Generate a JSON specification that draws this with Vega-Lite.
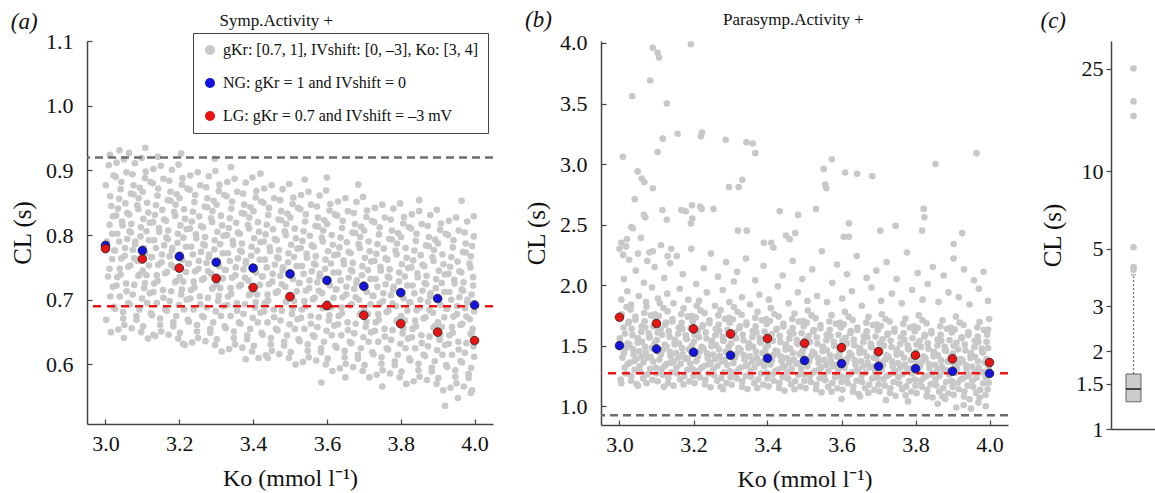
{
"$schema": "https://vega.github.io/schema/vega-lite/v6.json",
"background": "white",
"padding": {"left": 10, "top": 9, "right": 0, "bottom": 0},
"config": {"font": "Liberation Serif", "view": {"stroke": null},
 "axis": {"grid": false, "domainColor": "#444", "tickColor": "#444", "labelColor": "#111", "titleColor": "#111", "labelFontSize": 22, "titleFontSize": 24, "titleFontWeight": "normal", "domainWidth": 1.5, "tickWidth": 1.2, "labelFont": "Liberation Serif", "titleFont": "Liberation Serif"},
 "title": {"fontSize": 23, "fontWeight": "normal", "font": "Liberation Serif", "color": "#111"},
 "legend": {"labelFont": "Liberation Serif", "labelFontSize": 16, "labelLimit": 0, "labelColor": "#111", "symbolType": "circle", "symbolStrokeWidth": 0, "strokeColor": "#444", "fillColor": "white", "padding": 9, "labelOffset": 5, "titlePadding": 0}},
"datasets": {
"a": [
{"x":3.002,"y":0.669},{"x":3.013,"y":0.705},{"x":3.007,"y":0.736},{"x":3.018,"y":0.763},{"x":3.004,"y":0.790},{"x":3.011,"y":0.816},{"x":3.016,"y":0.845},{"x":3.001,"y":0.877},{"x":3.009,"y":0.908},
{"x":3.035,"y":0.654},{"x":3.023,"y":0.689},{"x":3.030,"y":0.722},{"x":3.039,"y":0.748},{"x":3.026,"y":0.776},{"x":3.032,"y":0.802},{"x":3.020,"y":0.829},{"x":3.037,"y":0.856},{"x":3.028,"y":0.890},
{"x":3.048,"y":0.681},{"x":3.057,"y":0.713},{"x":3.041,"y":0.739},{"x":3.052,"y":0.768},{"x":3.059,"y":0.794},{"x":3.045,"y":0.821},{"x":3.054,"y":0.849},{"x":3.043,"y":0.882},{"x":3.050,"y":0.917},
{"x":3.071,"y":0.656},{"x":3.066,"y":0.693},{"x":3.078,"y":0.723},{"x":3.062,"y":0.751},{"x":3.074,"y":0.777},{"x":3.069,"y":0.804},{"x":3.064,"y":0.832},{"x":3.076,"y":0.863},{"x":3.073,"y":0.894},
{"x":3.084,"y":0.669},{"x":3.099,"y":0.702},{"x":3.092,"y":0.739},{"x":3.087,"y":0.760},{"x":3.080,"y":0.786},{"x":3.096,"y":0.812},{"x":3.089,"y":0.840},{"x":3.093,"y":0.873},{"x":3.098,"y":0.919},
{"x":3.102,"y":0.659},{"x":3.113,"y":0.695},{"x":3.107,"y":0.726},{"x":3.118,"y":0.753},{"x":3.104,"y":0.780},{"x":3.111,"y":0.806},{"x":3.116,"y":0.835},{"x":3.101,"y":0.867},{"x":3.109,"y":0.898},
{"x":3.135,"y":0.644},{"x":3.123,"y":0.679},{"x":3.130,"y":0.712},{"x":3.139,"y":0.738},{"x":3.126,"y":0.766},{"x":3.132,"y":0.792},{"x":3.120,"y":0.819},{"x":3.137,"y":0.846},{"x":3.128,"y":0.880},
{"x":3.148,"y":0.671},{"x":3.157,"y":0.703},{"x":3.141,"y":0.729},{"x":3.152,"y":0.758},{"x":3.159,"y":0.784},{"x":3.145,"y":0.811},{"x":3.154,"y":0.839},{"x":3.143,"y":0.872},{"x":3.150,"y":0.907},
{"x":3.171,"y":0.646},{"x":3.166,"y":0.683},{"x":3.178,"y":0.713},{"x":3.162,"y":0.741},{"x":3.174,"y":0.767},{"x":3.169,"y":0.794},{"x":3.164,"y":0.822},{"x":3.176,"y":0.853},{"x":3.173,"y":0.884},
{"x":3.184,"y":0.659},{"x":3.199,"y":0.692},{"x":3.192,"y":0.729},{"x":3.187,"y":0.750},{"x":3.180,"y":0.776},{"x":3.196,"y":0.802},{"x":3.189,"y":0.830},{"x":3.193,"y":0.863},{"x":3.198,"y":0.909},
{"x":3.202,"y":0.649},{"x":3.213,"y":0.685},{"x":3.207,"y":0.716},{"x":3.218,"y":0.743},{"x":3.204,"y":0.770},{"x":3.211,"y":0.796},{"x":3.216,"y":0.825},{"x":3.201,"y":0.857},{"x":3.209,"y":0.888},
{"x":3.235,"y":0.634},{"x":3.223,"y":0.669},{"x":3.230,"y":0.702},{"x":3.239,"y":0.728},{"x":3.226,"y":0.756},{"x":3.232,"y":0.782},{"x":3.220,"y":0.809},{"x":3.237,"y":0.836},{"x":3.228,"y":0.870},
{"x":3.248,"y":0.661},{"x":3.257,"y":0.693},{"x":3.241,"y":0.719},{"x":3.252,"y":0.748},{"x":3.259,"y":0.774},{"x":3.245,"y":0.801},{"x":3.254,"y":0.829},{"x":3.243,"y":0.862},{"x":3.250,"y":0.897},
{"x":3.271,"y":0.636},{"x":3.266,"y":0.673},{"x":3.278,"y":0.703},{"x":3.262,"y":0.731},{"x":3.274,"y":0.757},{"x":3.269,"y":0.784},{"x":3.264,"y":0.812},{"x":3.276,"y":0.843},{"x":3.273,"y":0.874},
{"x":3.284,"y":0.649},{"x":3.299,"y":0.682},{"x":3.292,"y":0.719},{"x":3.287,"y":0.740},{"x":3.280,"y":0.766},{"x":3.296,"y":0.792},{"x":3.289,"y":0.820},{"x":3.293,"y":0.853},{"x":3.298,"y":0.899},
{"x":3.302,"y":0.639},{"x":3.313,"y":0.675},{"x":3.307,"y":0.706},{"x":3.318,"y":0.733},{"x":3.304,"y":0.760},{"x":3.311,"y":0.786},{"x":3.316,"y":0.815},{"x":3.301,"y":0.847},{"x":3.309,"y":0.878},
{"x":3.335,"y":0.624},{"x":3.323,"y":0.659},{"x":3.330,"y":0.692},{"x":3.339,"y":0.718},{"x":3.326,"y":0.746},{"x":3.332,"y":0.772},{"x":3.320,"y":0.799},{"x":3.337,"y":0.826},{"x":3.328,"y":0.860},
{"x":3.348,"y":0.651},{"x":3.357,"y":0.683},{"x":3.341,"y":0.709},{"x":3.352,"y":0.738},{"x":3.359,"y":0.764},{"x":3.345,"y":0.791},{"x":3.354,"y":0.819},{"x":3.343,"y":0.852},{"x":3.350,"y":0.887},
{"x":3.371,"y":0.626},{"x":3.366,"y":0.663},{"x":3.378,"y":0.693},{"x":3.362,"y":0.721},{"x":3.374,"y":0.747},{"x":3.369,"y":0.774},{"x":3.364,"y":0.802},{"x":3.376,"y":0.833},{"x":3.373,"y":0.864},
{"x":3.384,"y":0.639},{"x":3.399,"y":0.672},{"x":3.392,"y":0.709},{"x":3.387,"y":0.730},{"x":3.380,"y":0.756},{"x":3.396,"y":0.782},{"x":3.389,"y":0.810},{"x":3.393,"y":0.843},{"x":3.398,"y":0.889},
{"x":3.402,"y":0.629},{"x":3.413,"y":0.665},{"x":3.407,"y":0.696},{"x":3.418,"y":0.723},{"x":3.404,"y":0.750},{"x":3.411,"y":0.776},{"x":3.416,"y":0.805},{"x":3.401,"y":0.837},{"x":3.409,"y":0.868},
{"x":3.435,"y":0.614},{"x":3.423,"y":0.649},{"x":3.430,"y":0.682},{"x":3.439,"y":0.708},{"x":3.426,"y":0.736},{"x":3.432,"y":0.762},{"x":3.420,"y":0.789},{"x":3.437,"y":0.816},{"x":3.428,"y":0.850},
{"x":3.448,"y":0.641},{"x":3.457,"y":0.673},{"x":3.441,"y":0.699},{"x":3.452,"y":0.728},{"x":3.459,"y":0.754},{"x":3.445,"y":0.781},{"x":3.454,"y":0.809},{"x":3.443,"y":0.842},{"x":3.450,"y":0.877},
{"x":3.471,"y":0.616},{"x":3.466,"y":0.653},{"x":3.478,"y":0.683},{"x":3.462,"y":0.711},{"x":3.474,"y":0.737},{"x":3.469,"y":0.764},{"x":3.464,"y":0.792},{"x":3.476,"y":0.823},{"x":3.473,"y":0.854},
{"x":3.484,"y":0.629},{"x":3.499,"y":0.662},{"x":3.492,"y":0.699},{"x":3.487,"y":0.720},{"x":3.480,"y":0.746},{"x":3.496,"y":0.772},{"x":3.489,"y":0.800},{"x":3.493,"y":0.833},{"x":3.498,"y":0.879},
{"x":3.502,"y":0.619},{"x":3.513,"y":0.655},{"x":3.507,"y":0.686},{"x":3.518,"y":0.713},{"x":3.504,"y":0.740},{"x":3.511,"y":0.766},{"x":3.516,"y":0.795},{"x":3.501,"y":0.827},{"x":3.509,"y":0.858},
{"x":3.535,"y":0.604},{"x":3.523,"y":0.639},{"x":3.530,"y":0.672},{"x":3.539,"y":0.698},{"x":3.526,"y":0.726},{"x":3.532,"y":0.752},{"x":3.520,"y":0.779},{"x":3.537,"y":0.806},{"x":3.528,"y":0.840},
{"x":3.548,"y":0.631},{"x":3.557,"y":0.663},{"x":3.541,"y":0.689},{"x":3.552,"y":0.718},{"x":3.559,"y":0.744},{"x":3.545,"y":0.771},{"x":3.554,"y":0.799},{"x":3.543,"y":0.832},{"x":3.550,"y":0.867},
{"x":3.571,"y":0.606},{"x":3.566,"y":0.643},{"x":3.578,"y":0.673},{"x":3.562,"y":0.701},{"x":3.574,"y":0.727},{"x":3.569,"y":0.754},{"x":3.564,"y":0.782},{"x":3.576,"y":0.813},{"x":3.573,"y":0.844},
{"x":3.584,"y":0.619},{"x":3.599,"y":0.652},{"x":3.592,"y":0.689},{"x":3.587,"y":0.710},{"x":3.580,"y":0.736},{"x":3.596,"y":0.762},{"x":3.589,"y":0.790},{"x":3.593,"y":0.823},{"x":3.598,"y":0.869},
{"x":3.602,"y":0.609},{"x":3.613,"y":0.645},{"x":3.607,"y":0.676},{"x":3.618,"y":0.703},{"x":3.604,"y":0.730},{"x":3.611,"y":0.756},{"x":3.616,"y":0.785},{"x":3.601,"y":0.817},{"x":3.609,"y":0.848},
{"x":3.635,"y":0.594},{"x":3.623,"y":0.629},{"x":3.630,"y":0.662},{"x":3.639,"y":0.688},{"x":3.626,"y":0.716},{"x":3.632,"y":0.742},{"x":3.620,"y":0.769},{"x":3.637,"y":0.796},{"x":3.628,"y":0.830},
{"x":3.648,"y":0.621},{"x":3.657,"y":0.653},{"x":3.641,"y":0.679},{"x":3.652,"y":0.708},{"x":3.659,"y":0.734},{"x":3.645,"y":0.761},{"x":3.654,"y":0.789},{"x":3.643,"y":0.822},{"x":3.650,"y":0.857},
{"x":3.671,"y":0.596},{"x":3.666,"y":0.633},{"x":3.678,"y":0.663},{"x":3.662,"y":0.691},{"x":3.674,"y":0.717},{"x":3.669,"y":0.744},{"x":3.664,"y":0.772},{"x":3.676,"y":0.803},{"x":3.673,"y":0.834},
{"x":3.684,"y":0.609},{"x":3.699,"y":0.642},{"x":3.692,"y":0.679},{"x":3.687,"y":0.700},{"x":3.680,"y":0.726},{"x":3.696,"y":0.752},{"x":3.689,"y":0.780},{"x":3.693,"y":0.813},{"x":3.698,"y":0.859},
{"x":3.702,"y":0.599},{"x":3.713,"y":0.635},{"x":3.707,"y":0.666},{"x":3.718,"y":0.693},{"x":3.704,"y":0.720},{"x":3.711,"y":0.746},{"x":3.716,"y":0.775},{"x":3.701,"y":0.807},{"x":3.709,"y":0.838},
{"x":3.735,"y":0.584},{"x":3.723,"y":0.619},{"x":3.730,"y":0.652},{"x":3.739,"y":0.678},{"x":3.726,"y":0.706},{"x":3.732,"y":0.732},{"x":3.720,"y":0.759},{"x":3.737,"y":0.786},{"x":3.728,"y":0.820},
{"x":3.748,"y":0.611},{"x":3.757,"y":0.643},{"x":3.741,"y":0.669},{"x":3.752,"y":0.698},{"x":3.759,"y":0.724},{"x":3.745,"y":0.751},{"x":3.754,"y":0.779},{"x":3.743,"y":0.812},{"x":3.750,"y":0.847},
{"x":3.771,"y":0.586},{"x":3.766,"y":0.623},{"x":3.778,"y":0.653},{"x":3.762,"y":0.681},{"x":3.774,"y":0.707},{"x":3.769,"y":0.734},{"x":3.764,"y":0.762},{"x":3.776,"y":0.793},{"x":3.773,"y":0.824},
{"x":3.784,"y":0.599},{"x":3.799,"y":0.632},{"x":3.792,"y":0.669},{"x":3.787,"y":0.690},{"x":3.780,"y":0.716},{"x":3.796,"y":0.742},{"x":3.789,"y":0.770},{"x":3.793,"y":0.803},{"x":3.798,"y":0.849},
{"x":3.802,"y":0.589},{"x":3.813,"y":0.625},{"x":3.807,"y":0.656},{"x":3.818,"y":0.683},{"x":3.804,"y":0.710},{"x":3.811,"y":0.736},{"x":3.816,"y":0.765},{"x":3.801,"y":0.797},{"x":3.809,"y":0.828},
{"x":3.835,"y":0.574},{"x":3.823,"y":0.609},{"x":3.830,"y":0.642},{"x":3.839,"y":0.668},{"x":3.826,"y":0.696},{"x":3.832,"y":0.722},{"x":3.820,"y":0.749},{"x":3.837,"y":0.776},{"x":3.828,"y":0.810},
{"x":3.848,"y":0.601},{"x":3.857,"y":0.633},{"x":3.841,"y":0.659},{"x":3.852,"y":0.688},{"x":3.859,"y":0.714},{"x":3.845,"y":0.741},{"x":3.854,"y":0.769},{"x":3.843,"y":0.802},{"x":3.850,"y":0.837},
{"x":3.871,"y":0.576},{"x":3.866,"y":0.613},{"x":3.878,"y":0.643},{"x":3.862,"y":0.671},{"x":3.874,"y":0.697},{"x":3.869,"y":0.724},{"x":3.864,"y":0.752},{"x":3.876,"y":0.783},{"x":3.873,"y":0.814},
{"x":3.884,"y":0.589},{"x":3.899,"y":0.622},{"x":3.892,"y":0.659},{"x":3.887,"y":0.680},{"x":3.880,"y":0.706},{"x":3.896,"y":0.732},{"x":3.889,"y":0.760},{"x":3.893,"y":0.793},{"x":3.898,"y":0.839},
{"x":3.902,"y":0.579},{"x":3.913,"y":0.615},{"x":3.907,"y":0.646},{"x":3.918,"y":0.673},{"x":3.904,"y":0.700},{"x":3.911,"y":0.726},{"x":3.916,"y":0.755},{"x":3.901,"y":0.787},{"x":3.909,"y":0.818},
{"x":3.935,"y":0.564},{"x":3.923,"y":0.599},{"x":3.930,"y":0.632},{"x":3.939,"y":0.658},{"x":3.926,"y":0.686},{"x":3.932,"y":0.712},{"x":3.920,"y":0.739},{"x":3.937,"y":0.766},{"x":3.928,"y":0.800},
{"x":3.948,"y":0.591},{"x":3.957,"y":0.623},{"x":3.941,"y":0.649},{"x":3.952,"y":0.678},{"x":3.959,"y":0.704},{"x":3.945,"y":0.731},{"x":3.954,"y":0.759},{"x":3.943,"y":0.792},{"x":3.950,"y":0.827},
{"x":3.971,"y":0.566},{"x":3.966,"y":0.603},{"x":3.978,"y":0.633},{"x":3.962,"y":0.661},{"x":3.974,"y":0.687},{"x":3.969,"y":0.714},{"x":3.964,"y":0.742},{"x":3.976,"y":0.773},{"x":3.973,"y":0.804},
{"x":3.984,"y":0.579},{"x":3.999,"y":0.612},{"x":3.992,"y":0.649},{"x":3.987,"y":0.670},{"x":3.980,"y":0.696},{"x":3.996,"y":0.722},{"x":3.989,"y":0.750},{"x":3.993,"y":0.783},{"x":3.998,"y":0.829},
{"x":3.015,"y":0.650},{"x":3.026,"y":0.686},{"x":3.020,"y":0.720},{"x":3.011,"y":0.748},{"x":3.024,"y":0.776},{"x":3.018,"y":0.802},{"x":3.029,"y":0.830},{"x":3.013,"y":0.860},{"x":3.022,"y":0.892},
{"x":3.048,"y":0.671},{"x":3.039,"y":0.705},{"x":3.032,"y":0.735},{"x":3.043,"y":0.764},{"x":3.037,"y":0.790},{"x":3.046,"y":0.815},{"x":3.034,"y":0.841},{"x":3.041,"y":0.871},{"x":3.030,"y":0.912},
{"x":3.051,"y":0.661},{"x":3.062,"y":0.695},{"x":3.056,"y":0.725},{"x":3.067,"y":0.753},{"x":3.053,"y":0.780},{"x":3.065,"y":0.806},{"x":3.059,"y":0.834},{"x":3.069,"y":0.864},{"x":3.057,"y":0.897},
{"x":3.084,"y":0.675},{"x":3.074,"y":0.708},{"x":3.089,"y":0.737},{"x":3.078,"y":0.764},{"x":3.081,"y":0.790},{"x":3.070,"y":0.817},{"x":3.086,"y":0.846},{"x":3.076,"y":0.877},{"x":3.080,"y":0.911},
{"x":3.097,"y":0.650},{"x":3.092,"y":0.685},{"x":3.105,"y":0.718},{"x":3.101,"y":0.745},{"x":3.108,"y":0.772},{"x":3.095,"y":0.798},{"x":3.103,"y":0.825},{"x":3.090,"y":0.857},{"x":3.107,"y":0.888},
{"x":3.115,"y":0.640},{"x":3.126,"y":0.676},{"x":3.120,"y":0.710},{"x":3.111,"y":0.738},{"x":3.124,"y":0.766},{"x":3.118,"y":0.792},{"x":3.129,"y":0.820},{"x":3.113,"y":0.850},{"x":3.122,"y":0.882},
{"x":3.148,"y":0.661},{"x":3.139,"y":0.695},{"x":3.132,"y":0.725},{"x":3.143,"y":0.754},{"x":3.137,"y":0.780},{"x":3.146,"y":0.805},{"x":3.134,"y":0.831},{"x":3.141,"y":0.861},{"x":3.130,"y":0.902},
{"x":3.151,"y":0.651},{"x":3.162,"y":0.685},{"x":3.156,"y":0.715},{"x":3.167,"y":0.743},{"x":3.153,"y":0.770},{"x":3.165,"y":0.796},{"x":3.159,"y":0.824},{"x":3.169,"y":0.854},{"x":3.157,"y":0.887},
{"x":3.184,"y":0.665},{"x":3.174,"y":0.698},{"x":3.189,"y":0.727},{"x":3.178,"y":0.754},{"x":3.181,"y":0.780},{"x":3.170,"y":0.807},{"x":3.186,"y":0.836},{"x":3.176,"y":0.867},{"x":3.180,"y":0.901},
{"x":3.197,"y":0.640},{"x":3.192,"y":0.675},{"x":3.205,"y":0.708},{"x":3.201,"y":0.735},{"x":3.208,"y":0.762},{"x":3.195,"y":0.788},{"x":3.203,"y":0.815},{"x":3.190,"y":0.847},{"x":3.207,"y":0.878},
{"x":3.215,"y":0.630},{"x":3.226,"y":0.666},{"x":3.220,"y":0.700},{"x":3.211,"y":0.728},{"x":3.224,"y":0.756},{"x":3.218,"y":0.782},{"x":3.229,"y":0.810},{"x":3.213,"y":0.840},{"x":3.222,"y":0.872},
{"x":3.248,"y":0.651},{"x":3.239,"y":0.685},{"x":3.232,"y":0.715},{"x":3.243,"y":0.744},{"x":3.237,"y":0.770},{"x":3.246,"y":0.795},{"x":3.234,"y":0.821},{"x":3.241,"y":0.851},{"x":3.230,"y":0.892},
{"x":3.251,"y":0.641},{"x":3.262,"y":0.675},{"x":3.256,"y":0.705},{"x":3.267,"y":0.733},{"x":3.253,"y":0.760},{"x":3.265,"y":0.786},{"x":3.259,"y":0.814},{"x":3.269,"y":0.844},{"x":3.257,"y":0.877},
{"x":3.284,"y":0.655},{"x":3.274,"y":0.688},{"x":3.289,"y":0.717},{"x":3.278,"y":0.744},{"x":3.281,"y":0.770},{"x":3.270,"y":0.797},{"x":3.286,"y":0.826},{"x":3.276,"y":0.857},{"x":3.280,"y":0.891},
{"x":3.297,"y":0.630},{"x":3.292,"y":0.665},{"x":3.305,"y":0.698},{"x":3.301,"y":0.725},{"x":3.308,"y":0.752},{"x":3.295,"y":0.778},{"x":3.303,"y":0.805},{"x":3.290,"y":0.837},{"x":3.307,"y":0.868},
{"x":3.315,"y":0.620},{"x":3.326,"y":0.656},{"x":3.320,"y":0.690},{"x":3.311,"y":0.718},{"x":3.324,"y":0.746},{"x":3.318,"y":0.772},{"x":3.329,"y":0.800},{"x":3.313,"y":0.830},{"x":3.322,"y":0.862},
{"x":3.348,"y":0.641},{"x":3.339,"y":0.675},{"x":3.332,"y":0.705},{"x":3.343,"y":0.734},{"x":3.337,"y":0.760},{"x":3.346,"y":0.785},{"x":3.334,"y":0.811},{"x":3.341,"y":0.841},{"x":3.330,"y":0.882},
{"x":3.351,"y":0.631},{"x":3.362,"y":0.665},{"x":3.356,"y":0.695},{"x":3.367,"y":0.723},{"x":3.353,"y":0.750},{"x":3.365,"y":0.776},{"x":3.359,"y":0.804},{"x":3.369,"y":0.834},{"x":3.357,"y":0.867},
{"x":3.384,"y":0.645},{"x":3.374,"y":0.678},{"x":3.389,"y":0.707},{"x":3.378,"y":0.734},{"x":3.381,"y":0.760},{"x":3.370,"y":0.787},{"x":3.386,"y":0.816},{"x":3.376,"y":0.847},{"x":3.380,"y":0.881},
{"x":3.397,"y":0.620},{"x":3.392,"y":0.655},{"x":3.405,"y":0.688},{"x":3.401,"y":0.715},{"x":3.408,"y":0.742},{"x":3.395,"y":0.768},{"x":3.403,"y":0.795},{"x":3.390,"y":0.827},{"x":3.407,"y":0.858},
{"x":3.415,"y":0.610},{"x":3.426,"y":0.646},{"x":3.420,"y":0.680},{"x":3.411,"y":0.708},{"x":3.424,"y":0.736},{"x":3.418,"y":0.762},{"x":3.429,"y":0.790},{"x":3.413,"y":0.820},{"x":3.422,"y":0.852},
{"x":3.448,"y":0.631},{"x":3.439,"y":0.665},{"x":3.432,"y":0.695},{"x":3.443,"y":0.724},{"x":3.437,"y":0.750},{"x":3.446,"y":0.775},{"x":3.434,"y":0.801},{"x":3.441,"y":0.831},{"x":3.430,"y":0.872},
{"x":3.451,"y":0.621},{"x":3.462,"y":0.655},{"x":3.456,"y":0.685},{"x":3.467,"y":0.713},{"x":3.453,"y":0.740},{"x":3.465,"y":0.766},{"x":3.459,"y":0.794},{"x":3.469,"y":0.824},{"x":3.457,"y":0.857},
{"x":3.484,"y":0.635},{"x":3.474,"y":0.668},{"x":3.489,"y":0.697},{"x":3.478,"y":0.724},{"x":3.481,"y":0.750},{"x":3.470,"y":0.777},{"x":3.486,"y":0.806},{"x":3.476,"y":0.837},{"x":3.480,"y":0.871},
{"x":3.497,"y":0.610},{"x":3.492,"y":0.645},{"x":3.505,"y":0.678},{"x":3.501,"y":0.705},{"x":3.508,"y":0.732},{"x":3.495,"y":0.758},{"x":3.503,"y":0.785},{"x":3.490,"y":0.817},{"x":3.507,"y":0.848},
{"x":3.515,"y":0.600},{"x":3.526,"y":0.636},{"x":3.520,"y":0.670},{"x":3.511,"y":0.698},{"x":3.524,"y":0.726},{"x":3.518,"y":0.752},{"x":3.529,"y":0.780},{"x":3.513,"y":0.810},{"x":3.522,"y":0.842},
{"x":3.548,"y":0.621},{"x":3.539,"y":0.655},{"x":3.532,"y":0.685},{"x":3.543,"y":0.714},{"x":3.537,"y":0.740},{"x":3.546,"y":0.765},{"x":3.534,"y":0.791},{"x":3.541,"y":0.821},{"x":3.530,"y":0.862},
{"x":3.551,"y":0.611},{"x":3.562,"y":0.645},{"x":3.556,"y":0.675},{"x":3.567,"y":0.703},{"x":3.553,"y":0.730},{"x":3.565,"y":0.756},{"x":3.559,"y":0.784},{"x":3.569,"y":0.814},{"x":3.557,"y":0.847},
{"x":3.584,"y":0.625},{"x":3.574,"y":0.658},{"x":3.589,"y":0.687},{"x":3.578,"y":0.714},{"x":3.581,"y":0.740},{"x":3.570,"y":0.767},{"x":3.586,"y":0.796},{"x":3.576,"y":0.827},{"x":3.580,"y":0.861},
{"x":3.597,"y":0.600},{"x":3.592,"y":0.635},{"x":3.605,"y":0.668},{"x":3.601,"y":0.695},{"x":3.608,"y":0.722},{"x":3.595,"y":0.748},{"x":3.603,"y":0.775},{"x":3.590,"y":0.807},{"x":3.607,"y":0.838},
{"x":3.615,"y":0.590},{"x":3.626,"y":0.626},{"x":3.620,"y":0.660},{"x":3.611,"y":0.688},{"x":3.624,"y":0.716},{"x":3.618,"y":0.742},{"x":3.629,"y":0.770},{"x":3.613,"y":0.800},{"x":3.622,"y":0.832},
{"x":3.648,"y":0.611},{"x":3.639,"y":0.645},{"x":3.632,"y":0.675},{"x":3.643,"y":0.704},{"x":3.637,"y":0.730},{"x":3.646,"y":0.755},{"x":3.634,"y":0.781},{"x":3.641,"y":0.811},{"x":3.630,"y":0.852},
{"x":3.651,"y":0.601},{"x":3.662,"y":0.635},{"x":3.656,"y":0.665},{"x":3.667,"y":0.693},{"x":3.653,"y":0.720},{"x":3.665,"y":0.746},{"x":3.659,"y":0.774},{"x":3.669,"y":0.804},{"x":3.657,"y":0.837},
{"x":3.684,"y":0.615},{"x":3.674,"y":0.648},{"x":3.689,"y":0.677},{"x":3.678,"y":0.704},{"x":3.681,"y":0.730},{"x":3.670,"y":0.757},{"x":3.686,"y":0.786},{"x":3.676,"y":0.817},{"x":3.680,"y":0.851},
{"x":3.697,"y":0.590},{"x":3.692,"y":0.625},{"x":3.705,"y":0.658},{"x":3.701,"y":0.685},{"x":3.708,"y":0.712},{"x":3.695,"y":0.738},{"x":3.703,"y":0.765},{"x":3.690,"y":0.797},{"x":3.707,"y":0.828},
{"x":3.715,"y":0.580},{"x":3.726,"y":0.616},{"x":3.720,"y":0.650},{"x":3.711,"y":0.678},{"x":3.724,"y":0.706},{"x":3.718,"y":0.732},{"x":3.729,"y":0.760},{"x":3.713,"y":0.790},{"x":3.722,"y":0.822},
{"x":3.748,"y":0.601},{"x":3.739,"y":0.635},{"x":3.732,"y":0.665},{"x":3.743,"y":0.694},{"x":3.737,"y":0.720},{"x":3.746,"y":0.745},{"x":3.734,"y":0.771},{"x":3.741,"y":0.801},{"x":3.730,"y":0.842},
{"x":3.751,"y":0.591},{"x":3.762,"y":0.625},{"x":3.756,"y":0.655},{"x":3.767,"y":0.683},{"x":3.753,"y":0.710},{"x":3.765,"y":0.736},{"x":3.759,"y":0.764},{"x":3.769,"y":0.794},{"x":3.757,"y":0.827},
{"x":3.784,"y":0.605},{"x":3.774,"y":0.638},{"x":3.789,"y":0.667},{"x":3.778,"y":0.694},{"x":3.781,"y":0.720},{"x":3.770,"y":0.747},{"x":3.786,"y":0.776},{"x":3.776,"y":0.807},{"x":3.780,"y":0.841},
{"x":3.797,"y":0.580},{"x":3.792,"y":0.615},{"x":3.805,"y":0.648},{"x":3.801,"y":0.675},{"x":3.808,"y":0.702},{"x":3.795,"y":0.728},{"x":3.803,"y":0.755},{"x":3.790,"y":0.787},{"x":3.807,"y":0.818},
{"x":3.815,"y":0.570},{"x":3.826,"y":0.606},{"x":3.820,"y":0.640},{"x":3.811,"y":0.668},{"x":3.824,"y":0.696},{"x":3.818,"y":0.722},{"x":3.829,"y":0.750},{"x":3.813,"y":0.780},{"x":3.822,"y":0.812},
{"x":3.848,"y":0.591},{"x":3.839,"y":0.625},{"x":3.832,"y":0.655},{"x":3.843,"y":0.684},{"x":3.837,"y":0.710},{"x":3.846,"y":0.735},{"x":3.834,"y":0.761},{"x":3.841,"y":0.791},{"x":3.830,"y":0.832},
{"x":3.851,"y":0.581},{"x":3.862,"y":0.615},{"x":3.856,"y":0.645},{"x":3.867,"y":0.673},{"x":3.853,"y":0.700},{"x":3.865,"y":0.726},{"x":3.859,"y":0.754},{"x":3.869,"y":0.784},{"x":3.857,"y":0.817},
{"x":3.884,"y":0.595},{"x":3.874,"y":0.628},{"x":3.889,"y":0.657},{"x":3.878,"y":0.684},{"x":3.881,"y":0.710},{"x":3.870,"y":0.737},{"x":3.886,"y":0.766},{"x":3.876,"y":0.797},{"x":3.880,"y":0.831},
{"x":3.897,"y":0.570},{"x":3.892,"y":0.605},{"x":3.905,"y":0.638},{"x":3.901,"y":0.665},{"x":3.908,"y":0.692},{"x":3.895,"y":0.718},{"x":3.903,"y":0.745},{"x":3.890,"y":0.777},{"x":3.907,"y":0.808},
{"x":3.915,"y":0.560},{"x":3.926,"y":0.596},{"x":3.920,"y":0.630},{"x":3.911,"y":0.658},{"x":3.924,"y":0.686},{"x":3.918,"y":0.712},{"x":3.929,"y":0.740},{"x":3.913,"y":0.770},{"x":3.922,"y":0.802},
{"x":3.948,"y":0.581},{"x":3.939,"y":0.615},{"x":3.932,"y":0.645},{"x":3.943,"y":0.674},{"x":3.937,"y":0.700},{"x":3.946,"y":0.725},{"x":3.934,"y":0.751},{"x":3.941,"y":0.781},{"x":3.930,"y":0.822},
{"x":3.951,"y":0.571},{"x":3.962,"y":0.605},{"x":3.956,"y":0.635},{"x":3.967,"y":0.663},{"x":3.953,"y":0.690},{"x":3.965,"y":0.716},{"x":3.959,"y":0.744},{"x":3.969,"y":0.774},{"x":3.957,"y":0.807},
{"x":3.984,"y":0.585},{"x":3.974,"y":0.618},{"x":3.989,"y":0.647},{"x":3.978,"y":0.674},{"x":3.981,"y":0.700},{"x":3.970,"y":0.727},{"x":3.986,"y":0.756},{"x":3.976,"y":0.787},{"x":3.980,"y":0.821},
{"x":3.993,"y":0.560},{"x":3.991,"y":0.595},{"x":3.997,"y":0.628},{"x":3.995,"y":0.655},{"x":3.999,"y":0.682},{"x":3.992,"y":0.708},{"x":3.996,"y":0.735},{"x":3.990,"y":0.767},{"x":3.998,"y":0.798},
{"x":3.012,"y":0.924},{"x":3.038,"y":0.931},{"x":3.064,"y":0.927},{"x":3.108,"y":0.935},{"x":3.142,"y":0.921},{"x":3.205,"y":0.926},{"x":3.296,"y":0.918},{"x":3.05,"y":0.641},{"x":3.13,"y":0.646},{"x":3.21,"y":0.632},{"x":3.38,"y":0.608},{"x":3.44,"y":0.61},{"x":3.585,"y":0.572},{"x":3.65,"y":0.58},{"x":3.75,"y":0.566},{"x":3.815,"y":0.57},{"x":3.92,"y":0.536},{"x":3.955,"y":0.548},{"x":3.99,"y":0.556},{"x":3.6,"y":0.889},{"x":3.685,"y":0.878},{"x":3.54,"y":0.886},{"x":3.85,"y":0.854},{"x":3.965,"y":0.853},{"x":3.42,"y":0.895},{"x":3.34,"y":0.905}
],
"am": [
{"x":3.0,"y":0.784,"s":"NG"},{"x":3.1,"y":0.776,"s":"NG"},{"x":3.2,"y":0.767,"s":"NG"},{"x":3.3,"y":0.758,"s":"NG"},{"x":3.4,"y":0.749,"s":"NG"},{"x":3.5,"y":0.740,"s":"NG"},{"x":3.6,"y":0.730,"s":"NG"},{"x":3.7,"y":0.721,"s":"NG"},{"x":3.8,"y":0.711,"s":"NG"},{"x":3.9,"y":0.702,"s":"NG"},{"x":4.0,"y":0.692,"s":"NG"},
{"x":3.0,"y":0.779,"s":"LG"},{"x":3.1,"y":0.763,"s":"LG"},{"x":3.2,"y":0.749,"s":"LG"},{"x":3.3,"y":0.733,"s":"LG"},{"x":3.4,"y":0.719,"s":"LG"},{"x":3.5,"y":0.705,"s":"LG"},{"x":3.6,"y":0.691,"s":"LG"},{"x":3.7,"y":0.676,"s":"LG"},{"x":3.8,"y":0.663,"s":"LG"},{"x":3.9,"y":0.650,"s":"LG"},{"x":4.0,"y":0.637,"s":"LG"}
],
"b": [
{"x":3.003,"y":1.220},{"x":3.014,"y":1.320},{"x":3.008,"y":1.400},{"x":3.017,"y":1.480},{"x":3.001,"y":1.560},{"x":3.011,"y":1.650},{"x":3.006,"y":1.760},
{"x":3.032,"y":1.247},{"x":3.022,"y":1.347},{"x":3.038,"y":1.427},{"x":3.027,"y":1.507},{"x":3.035,"y":1.587},{"x":3.024,"y":1.687},{"x":3.030,"y":1.797},
{"x":3.046,"y":1.184},{"x":3.056,"y":1.284},{"x":3.040,"y":1.374},{"x":3.053,"y":1.454},{"x":3.049,"y":1.524},{"x":3.059,"y":1.614},{"x":3.043,"y":1.714},
{"x":3.075,"y":1.262},{"x":3.065,"y":1.362},{"x":3.071,"y":1.442},{"x":3.061,"y":1.532},{"x":3.079,"y":1.602},{"x":3.068,"y":1.702},{"x":3.073,"y":1.822},
{"x":3.089,"y":1.219},{"x":3.098,"y":1.319},{"x":3.084,"y":1.409},{"x":3.094,"y":1.479},{"x":3.082,"y":1.569},{"x":3.092,"y":1.659},{"x":3.096,"y":1.759},
{"x":3.103,"y":1.206},{"x":3.114,"y":1.306},{"x":3.108,"y":1.386},{"x":3.117,"y":1.466},{"x":3.101,"y":1.546},{"x":3.111,"y":1.636},{"x":3.106,"y":1.746},
{"x":3.132,"y":1.233},{"x":3.122,"y":1.333},{"x":3.138,"y":1.413},{"x":3.127,"y":1.493},{"x":3.135,"y":1.573},{"x":3.124,"y":1.673},{"x":3.130,"y":1.783},
{"x":3.146,"y":1.170},{"x":3.156,"y":1.270},{"x":3.140,"y":1.360},{"x":3.153,"y":1.440},{"x":3.149,"y":1.510},{"x":3.159,"y":1.600},{"x":3.143,"y":1.700},
{"x":3.175,"y":1.248},{"x":3.165,"y":1.348},{"x":3.171,"y":1.428},{"x":3.161,"y":1.518},{"x":3.179,"y":1.588},{"x":3.168,"y":1.688},{"x":3.173,"y":1.808},
{"x":3.189,"y":1.205},{"x":3.198,"y":1.305},{"x":3.184,"y":1.395},{"x":3.194,"y":1.465},{"x":3.182,"y":1.555},{"x":3.192,"y":1.645},{"x":3.196,"y":1.745},
{"x":3.203,"y":1.192},{"x":3.214,"y":1.292},{"x":3.208,"y":1.372},{"x":3.217,"y":1.452},{"x":3.201,"y":1.532},{"x":3.211,"y":1.622},{"x":3.206,"y":1.732},
{"x":3.232,"y":1.219},{"x":3.222,"y":1.319},{"x":3.238,"y":1.399},{"x":3.227,"y":1.479},{"x":3.235,"y":1.559},{"x":3.224,"y":1.659},{"x":3.230,"y":1.769},
{"x":3.246,"y":1.156},{"x":3.256,"y":1.256},{"x":3.240,"y":1.346},{"x":3.253,"y":1.426},{"x":3.249,"y":1.496},{"x":3.259,"y":1.586},{"x":3.243,"y":1.686},
{"x":3.275,"y":1.234},{"x":3.265,"y":1.334},{"x":3.271,"y":1.414},{"x":3.261,"y":1.504},{"x":3.279,"y":1.574},{"x":3.268,"y":1.674},{"x":3.273,"y":1.794},
{"x":3.289,"y":1.191},{"x":3.298,"y":1.291},{"x":3.284,"y":1.381},{"x":3.294,"y":1.451},{"x":3.282,"y":1.541},{"x":3.292,"y":1.631},{"x":3.296,"y":1.731},
{"x":3.303,"y":1.178},{"x":3.314,"y":1.278},{"x":3.308,"y":1.358},{"x":3.317,"y":1.438},{"x":3.301,"y":1.518},{"x":3.311,"y":1.608},{"x":3.306,"y":1.718},
{"x":3.332,"y":1.205},{"x":3.322,"y":1.305},{"x":3.338,"y":1.385},{"x":3.327,"y":1.465},{"x":3.335,"y":1.545},{"x":3.324,"y":1.645},{"x":3.330,"y":1.755},
{"x":3.346,"y":1.142},{"x":3.356,"y":1.242},{"x":3.340,"y":1.332},{"x":3.353,"y":1.412},{"x":3.349,"y":1.482},{"x":3.359,"y":1.572},{"x":3.343,"y":1.672},
{"x":3.375,"y":1.220},{"x":3.365,"y":1.320},{"x":3.371,"y":1.400},{"x":3.361,"y":1.490},{"x":3.379,"y":1.560},{"x":3.368,"y":1.660},{"x":3.373,"y":1.780},
{"x":3.389,"y":1.177},{"x":3.398,"y":1.277},{"x":3.384,"y":1.367},{"x":3.394,"y":1.437},{"x":3.382,"y":1.527},{"x":3.392,"y":1.617},{"x":3.396,"y":1.717},
{"x":3.403,"y":1.164},{"x":3.414,"y":1.264},{"x":3.408,"y":1.344},{"x":3.417,"y":1.424},{"x":3.401,"y":1.504},{"x":3.411,"y":1.594},{"x":3.406,"y":1.704},
{"x":3.432,"y":1.191},{"x":3.422,"y":1.291},{"x":3.438,"y":1.371},{"x":3.427,"y":1.451},{"x":3.435,"y":1.531},{"x":3.424,"y":1.631},{"x":3.430,"y":1.741},
{"x":3.446,"y":1.128},{"x":3.456,"y":1.228},{"x":3.440,"y":1.318},{"x":3.453,"y":1.398},{"x":3.449,"y":1.468},{"x":3.459,"y":1.558},{"x":3.443,"y":1.658},
{"x":3.475,"y":1.206},{"x":3.465,"y":1.306},{"x":3.471,"y":1.386},{"x":3.461,"y":1.476},{"x":3.479,"y":1.546},{"x":3.468,"y":1.646},{"x":3.473,"y":1.766},
{"x":3.489,"y":1.163},{"x":3.498,"y":1.263},{"x":3.484,"y":1.353},{"x":3.494,"y":1.423},{"x":3.482,"y":1.513},{"x":3.492,"y":1.603},{"x":3.496,"y":1.703},
{"x":3.503,"y":1.150},{"x":3.514,"y":1.250},{"x":3.508,"y":1.330},{"x":3.517,"y":1.410},{"x":3.501,"y":1.490},{"x":3.511,"y":1.580},{"x":3.506,"y":1.690},
{"x":3.532,"y":1.177},{"x":3.522,"y":1.277},{"x":3.538,"y":1.357},{"x":3.527,"y":1.437},{"x":3.535,"y":1.517},{"x":3.524,"y":1.617},{"x":3.530,"y":1.727},
{"x":3.546,"y":1.114},{"x":3.556,"y":1.214},{"x":3.540,"y":1.304},{"x":3.553,"y":1.384},{"x":3.549,"y":1.454},{"x":3.559,"y":1.544},{"x":3.543,"y":1.644},
{"x":3.575,"y":1.192},{"x":3.565,"y":1.292},{"x":3.571,"y":1.372},{"x":3.561,"y":1.462},{"x":3.579,"y":1.532},{"x":3.568,"y":1.632},{"x":3.573,"y":1.752},
{"x":3.589,"y":1.149},{"x":3.598,"y":1.249},{"x":3.584,"y":1.339},{"x":3.594,"y":1.409},{"x":3.582,"y":1.499},{"x":3.592,"y":1.589},{"x":3.596,"y":1.689},
{"x":3.603,"y":1.136},{"x":3.614,"y":1.236},{"x":3.608,"y":1.316},{"x":3.617,"y":1.396},{"x":3.601,"y":1.476},{"x":3.611,"y":1.566},{"x":3.606,"y":1.676},
{"x":3.632,"y":1.163},{"x":3.622,"y":1.263},{"x":3.638,"y":1.343},{"x":3.627,"y":1.423},{"x":3.635,"y":1.503},{"x":3.624,"y":1.603},{"x":3.630,"y":1.713},
{"x":3.646,"y":1.100},{"x":3.656,"y":1.200},{"x":3.640,"y":1.290},{"x":3.653,"y":1.370},{"x":3.649,"y":1.440},{"x":3.659,"y":1.530},{"x":3.643,"y":1.630},
{"x":3.675,"y":1.178},{"x":3.665,"y":1.278},{"x":3.671,"y":1.358},{"x":3.661,"y":1.448},{"x":3.679,"y":1.518},{"x":3.668,"y":1.618},{"x":3.673,"y":1.738},
{"x":3.689,"y":1.135},{"x":3.698,"y":1.235},{"x":3.684,"y":1.325},{"x":3.694,"y":1.395},{"x":3.682,"y":1.485},{"x":3.692,"y":1.575},{"x":3.696,"y":1.675},
{"x":3.703,"y":1.122},{"x":3.714,"y":1.222},{"x":3.708,"y":1.302},{"x":3.717,"y":1.382},{"x":3.701,"y":1.462},{"x":3.711,"y":1.552},{"x":3.706,"y":1.662},
{"x":3.732,"y":1.149},{"x":3.722,"y":1.249},{"x":3.738,"y":1.329},{"x":3.727,"y":1.409},{"x":3.735,"y":1.489},{"x":3.724,"y":1.589},{"x":3.730,"y":1.699},
{"x":3.746,"y":1.086},{"x":3.756,"y":1.186},{"x":3.740,"y":1.276},{"x":3.753,"y":1.356},{"x":3.749,"y":1.426},{"x":3.759,"y":1.516},{"x":3.743,"y":1.616},
{"x":3.775,"y":1.164},{"x":3.765,"y":1.264},{"x":3.771,"y":1.344},{"x":3.761,"y":1.434},{"x":3.779,"y":1.504},{"x":3.768,"y":1.604},{"x":3.773,"y":1.724},
{"x":3.789,"y":1.121},{"x":3.798,"y":1.221},{"x":3.784,"y":1.311},{"x":3.794,"y":1.381},{"x":3.782,"y":1.471},{"x":3.792,"y":1.561},{"x":3.796,"y":1.661},
{"x":3.803,"y":1.108},{"x":3.814,"y":1.208},{"x":3.808,"y":1.288},{"x":3.817,"y":1.368},{"x":3.801,"y":1.448},{"x":3.811,"y":1.538},{"x":3.806,"y":1.648},
{"x":3.832,"y":1.135},{"x":3.822,"y":1.235},{"x":3.838,"y":1.315},{"x":3.827,"y":1.395},{"x":3.835,"y":1.475},{"x":3.824,"y":1.575},{"x":3.830,"y":1.685},
{"x":3.846,"y":1.072},{"x":3.856,"y":1.172},{"x":3.840,"y":1.262},{"x":3.853,"y":1.342},{"x":3.849,"y":1.412},{"x":3.859,"y":1.502},{"x":3.843,"y":1.602},
{"x":3.875,"y":1.150},{"x":3.865,"y":1.250},{"x":3.871,"y":1.330},{"x":3.861,"y":1.420},{"x":3.879,"y":1.490},{"x":3.868,"y":1.590},{"x":3.873,"y":1.710},
{"x":3.889,"y":1.107},{"x":3.898,"y":1.207},{"x":3.884,"y":1.297},{"x":3.894,"y":1.367},{"x":3.882,"y":1.457},{"x":3.892,"y":1.547},{"x":3.896,"y":1.647},
{"x":3.903,"y":1.094},{"x":3.914,"y":1.194},{"x":3.908,"y":1.274},{"x":3.917,"y":1.354},{"x":3.901,"y":1.434},{"x":3.911,"y":1.524},{"x":3.906,"y":1.634},
{"x":3.932,"y":1.121},{"x":3.922,"y":1.221},{"x":3.938,"y":1.301},{"x":3.927,"y":1.381},{"x":3.935,"y":1.461},{"x":3.924,"y":1.561},{"x":3.930,"y":1.671},
{"x":3.946,"y":1.058},{"x":3.956,"y":1.158},{"x":3.940,"y":1.248},{"x":3.953,"y":1.328},{"x":3.949,"y":1.398},{"x":3.959,"y":1.488},{"x":3.943,"y":1.588},
{"x":3.975,"y":1.136},{"x":3.965,"y":1.236},{"x":3.971,"y":1.316},{"x":3.961,"y":1.406},{"x":3.979,"y":1.476},{"x":3.968,"y":1.576},{"x":3.973,"y":1.696},
{"x":3.989,"y":1.093},{"x":3.998,"y":1.193},{"x":3.984,"y":1.283},{"x":3.994,"y":1.353},{"x":3.982,"y":1.443},{"x":3.992,"y":1.533},{"x":3.996,"y":1.633},
{"x":3.017,"y":1.27},{"x":3.028,"y":1.36},{"x":3.012,"y":1.44},{"x":3.022,"y":1.52},{"x":3.015,"y":1.60},{"x":3.025,"y":1.70},{"x":3.019,"y":1.82},
{"x":3.031,"y":1.21},{"x":3.041,"y":1.30},{"x":3.046,"y":1.39},{"x":3.036,"y":1.47},{"x":3.049,"y":1.55},{"x":3.033,"y":1.64},{"x":3.043,"y":1.74},
{"x":3.064,"y":1.23},{"x":3.054,"y":1.33},{"x":3.059,"y":1.41},{"x":3.069,"y":1.49},{"x":3.050,"y":1.56},{"x":3.060,"y":1.66},{"x":3.067,"y":1.77},
{"x":3.073,"y":1.19},{"x":3.083,"y":1.31},{"x":3.077,"y":1.40},{"x":3.087,"y":1.48},{"x":3.080,"y":1.57},{"x":3.070,"y":1.65},{"x":3.085,"y":1.75},
{"x":3.100,"y":1.27},{"x":3.091,"y":1.37},{"x":3.107,"y":1.45},{"x":3.095,"y":1.52},{"x":3.103,"y":1.61},{"x":3.098,"y":1.72},{"x":3.109,"y":1.85},
{"x":3.117,"y":1.26},{"x":3.128,"y":1.35},{"x":3.112,"y":1.43},{"x":3.122,"y":1.51},{"x":3.115,"y":1.59},{"x":3.125,"y":1.69},{"x":3.119,"y":1.81},
{"x":3.131,"y":1.19},{"x":3.141,"y":1.28},{"x":3.146,"y":1.37},{"x":3.136,"y":1.45},{"x":3.149,"y":1.53},{"x":3.133,"y":1.62},{"x":3.143,"y":1.72},
{"x":3.164,"y":1.22},{"x":3.154,"y":1.32},{"x":3.159,"y":1.40},{"x":3.169,"y":1.48},{"x":3.150,"y":1.55},{"x":3.160,"y":1.65},{"x":3.167,"y":1.76},
{"x":3.173,"y":1.18},{"x":3.183,"y":1.30},{"x":3.177,"y":1.39},{"x":3.187,"y":1.47},{"x":3.180,"y":1.56},{"x":3.170,"y":1.64},{"x":3.185,"y":1.74},
{"x":3.200,"y":1.25},{"x":3.191,"y":1.35},{"x":3.207,"y":1.43},{"x":3.195,"y":1.50},{"x":3.203,"y":1.59},{"x":3.198,"y":1.70},{"x":3.209,"y":1.83},
{"x":3.217,"y":1.24},{"x":3.228,"y":1.33},{"x":3.212,"y":1.41},{"x":3.222,"y":1.49},{"x":3.215,"y":1.57},{"x":3.225,"y":1.67},{"x":3.219,"y":1.79},
{"x":3.231,"y":1.18},{"x":3.241,"y":1.27},{"x":3.246,"y":1.36},{"x":3.236,"y":1.44},{"x":3.249,"y":1.52},{"x":3.233,"y":1.61},{"x":3.243,"y":1.71},
{"x":3.264,"y":1.21},{"x":3.254,"y":1.31},{"x":3.259,"y":1.39},{"x":3.269,"y":1.47},{"x":3.250,"y":1.54},{"x":3.260,"y":1.64},{"x":3.267,"y":1.75},
{"x":3.273,"y":1.16},{"x":3.283,"y":1.28},{"x":3.277,"y":1.37},{"x":3.287,"y":1.45},{"x":3.280,"y":1.54},{"x":3.270,"y":1.62},{"x":3.285,"y":1.72},
{"x":3.300,"y":1.24},{"x":3.291,"y":1.34},{"x":3.307,"y":1.42},{"x":3.295,"y":1.49},{"x":3.303,"y":1.58},{"x":3.298,"y":1.69},{"x":3.309,"y":1.82},
{"x":3.317,"y":1.23},{"x":3.328,"y":1.32},{"x":3.312,"y":1.40},{"x":3.322,"y":1.48},{"x":3.315,"y":1.56},{"x":3.325,"y":1.66},{"x":3.319,"y":1.78},
{"x":3.331,"y":1.16},{"x":3.341,"y":1.25},{"x":3.346,"y":1.34},{"x":3.336,"y":1.42},{"x":3.349,"y":1.50},{"x":3.333,"y":1.59},{"x":3.343,"y":1.69},
{"x":3.364,"y":1.19},{"x":3.354,"y":1.29},{"x":3.359,"y":1.37},{"x":3.369,"y":1.45},{"x":3.350,"y":1.52},{"x":3.360,"y":1.62},{"x":3.367,"y":1.73},
{"x":3.373,"y":1.15},{"x":3.383,"y":1.27},{"x":3.377,"y":1.36},{"x":3.387,"y":1.44},{"x":3.380,"y":1.53},{"x":3.370,"y":1.61},{"x":3.385,"y":1.71},
{"x":3.400,"y":1.23},{"x":3.391,"y":1.33},{"x":3.407,"y":1.41},{"x":3.395,"y":1.48},{"x":3.403,"y":1.57},{"x":3.398,"y":1.68},{"x":3.409,"y":1.81},
{"x":3.417,"y":1.21},{"x":3.428,"y":1.30},{"x":3.412,"y":1.38},{"x":3.422,"y":1.46},{"x":3.415,"y":1.54},{"x":3.425,"y":1.64},{"x":3.419,"y":1.76},
{"x":3.431,"y":1.15},{"x":3.441,"y":1.24},{"x":3.446,"y":1.33},{"x":3.436,"y":1.41},{"x":3.449,"y":1.49},{"x":3.433,"y":1.58},{"x":3.443,"y":1.68},
{"x":3.464,"y":1.18},{"x":3.454,"y":1.28},{"x":3.459,"y":1.36},{"x":3.469,"y":1.44},{"x":3.450,"y":1.51},{"x":3.460,"y":1.61},{"x":3.467,"y":1.72},
{"x":3.473,"y":1.14},{"x":3.483,"y":1.26},{"x":3.477,"y":1.35},{"x":3.487,"y":1.43},{"x":3.480,"y":1.52},{"x":3.470,"y":1.60},{"x":3.485,"y":1.70},
{"x":3.500,"y":1.21},{"x":3.491,"y":1.31},{"x":3.507,"y":1.39},{"x":3.495,"y":1.46},{"x":3.503,"y":1.55},{"x":3.498,"y":1.66},{"x":3.509,"y":1.79},
{"x":3.517,"y":1.20},{"x":3.528,"y":1.29},{"x":3.512,"y":1.37},{"x":3.522,"y":1.45},{"x":3.515,"y":1.53},{"x":3.525,"y":1.63},{"x":3.519,"y":1.75},
{"x":3.531,"y":1.14},{"x":3.541,"y":1.23},{"x":3.546,"y":1.32},{"x":3.536,"y":1.40},{"x":3.549,"y":1.48},{"x":3.533,"y":1.57},{"x":3.543,"y":1.67},
{"x":3.564,"y":1.16},{"x":3.554,"y":1.26},{"x":3.559,"y":1.34},{"x":3.569,"y":1.42},{"x":3.550,"y":1.49},{"x":3.560,"y":1.59},{"x":3.567,"y":1.70},
{"x":3.573,"y":1.12},{"x":3.583,"y":1.24},{"x":3.577,"y":1.33},{"x":3.587,"y":1.41},{"x":3.580,"y":1.50},{"x":3.570,"y":1.58},{"x":3.585,"y":1.68},
{"x":3.600,"y":1.20},{"x":3.591,"y":1.30},{"x":3.607,"y":1.38},{"x":3.595,"y":1.45},{"x":3.603,"y":1.54},{"x":3.598,"y":1.65},{"x":3.609,"y":1.78},
{"x":3.617,"y":1.19},{"x":3.628,"y":1.28},{"x":3.612,"y":1.36},{"x":3.622,"y":1.44},{"x":3.615,"y":1.52},{"x":3.625,"y":1.62},{"x":3.619,"y":1.74},
{"x":3.631,"y":1.12},{"x":3.641,"y":1.21},{"x":3.646,"y":1.30},{"x":3.636,"y":1.38},{"x":3.649,"y":1.46},{"x":3.633,"y":1.55},{"x":3.643,"y":1.65},
{"x":3.664,"y":1.15},{"x":3.654,"y":1.25},{"x":3.659,"y":1.33},{"x":3.669,"y":1.41},{"x":3.650,"y":1.48},{"x":3.660,"y":1.58},{"x":3.667,"y":1.69},
{"x":3.673,"y":1.11},{"x":3.683,"y":1.23},{"x":3.677,"y":1.32},{"x":3.687,"y":1.40},{"x":3.680,"y":1.49},{"x":3.670,"y":1.57},{"x":3.685,"y":1.67},
{"x":3.700,"y":1.18},{"x":3.691,"y":1.28},{"x":3.707,"y":1.36},{"x":3.695,"y":1.43},{"x":3.703,"y":1.52},{"x":3.698,"y":1.63},{"x":3.709,"y":1.76},
{"x":3.717,"y":1.17},{"x":3.728,"y":1.26},{"x":3.712,"y":1.34},{"x":3.722,"y":1.42},{"x":3.715,"y":1.50},{"x":3.725,"y":1.60},{"x":3.719,"y":1.72},
{"x":3.731,"y":1.11},{"x":3.741,"y":1.20},{"x":3.746,"y":1.29},{"x":3.736,"y":1.37},{"x":3.749,"y":1.45},{"x":3.733,"y":1.54},{"x":3.743,"y":1.64},
{"x":3.764,"y":1.14},{"x":3.754,"y":1.24},{"x":3.759,"y":1.32},{"x":3.769,"y":1.40},{"x":3.750,"y":1.47},{"x":3.760,"y":1.57},{"x":3.767,"y":1.68},
{"x":3.773,"y":1.09},{"x":3.783,"y":1.21},{"x":3.777,"y":1.30},{"x":3.787,"y":1.38},{"x":3.780,"y":1.47},{"x":3.770,"y":1.55},{"x":3.785,"y":1.65},
{"x":3.800,"y":1.17},{"x":3.791,"y":1.27},{"x":3.807,"y":1.35},{"x":3.795,"y":1.42},{"x":3.803,"y":1.51},{"x":3.798,"y":1.62},{"x":3.809,"y":1.75},
{"x":3.817,"y":1.16},{"x":3.828,"y":1.25},{"x":3.812,"y":1.33},{"x":3.822,"y":1.41},{"x":3.815,"y":1.49},{"x":3.825,"y":1.59},{"x":3.819,"y":1.71},
{"x":3.831,"y":1.09},{"x":3.841,"y":1.18},{"x":3.846,"y":1.27},{"x":3.836,"y":1.35},{"x":3.849,"y":1.43},{"x":3.833,"y":1.52},{"x":3.843,"y":1.62},
{"x":3.864,"y":1.12},{"x":3.854,"y":1.22},{"x":3.859,"y":1.30},{"x":3.869,"y":1.38},{"x":3.850,"y":1.45},{"x":3.860,"y":1.55},{"x":3.867,"y":1.66},
{"x":3.873,"y":1.08},{"x":3.883,"y":1.20},{"x":3.877,"y":1.29},{"x":3.887,"y":1.37},{"x":3.880,"y":1.46},{"x":3.870,"y":1.54},{"x":3.885,"y":1.64},
{"x":3.900,"y":1.16},{"x":3.891,"y":1.26},{"x":3.907,"y":1.34},{"x":3.895,"y":1.41},{"x":3.903,"y":1.50},{"x":3.898,"y":1.61},{"x":3.909,"y":1.74},
{"x":3.917,"y":1.14},{"x":3.928,"y":1.23},{"x":3.912,"y":1.31},{"x":3.922,"y":1.39},{"x":3.915,"y":1.47},{"x":3.925,"y":1.57},{"x":3.919,"y":1.69},
{"x":3.931,"y":1.08},{"x":3.941,"y":1.17},{"x":3.946,"y":1.26},{"x":3.936,"y":1.34},{"x":3.949,"y":1.42},{"x":3.933,"y":1.51},{"x":3.943,"y":1.61},
{"x":3.964,"y":1.11},{"x":3.954,"y":1.21},{"x":3.959,"y":1.29},{"x":3.969,"y":1.37},{"x":3.950,"y":1.44},{"x":3.960,"y":1.54},{"x":3.967,"y":1.65},
{"x":3.973,"y":1.07},{"x":3.983,"y":1.19},{"x":3.977,"y":1.28},{"x":3.987,"y":1.36},{"x":3.980,"y":1.45},{"x":3.970,"y":1.53},{"x":3.985,"y":1.63},
{"x":3.995,"y":1.14},{"x":3.990,"y":1.24},{"x":3.998,"y":1.32},{"x":3.992,"y":1.39},{"x":3.996,"y":1.48},{"x":3.994,"y":1.59},{"x":3.999,"y":1.72},
{"x":3.005,"y":1.88},{"x":3.012,"y":2.05},{"x":3.018,"y":2.32},{"x":3.021,"y":1.95},{"x":3.026,"y":2.21},{"x":3.031,"y":1.84},{"x":3.044,"y":2.12},{"x":3.052,"y":1.91},{"x":3.058,"y":2.39},{"x":3.066,"y":2.02},{"x":3.072,"y":1.86},{"x":3.081,"y":2.27},{"x":3.088,"y":1.98},{"x":3.095,"y":2.15},{"x":3.104,"y":1.89},{"x":3.112,"y":2.33},{"x":3.121,"y":2.06},{"x":3.129,"y":1.93},{"x":3.137,"y":2.18},{"x":3.146,"y":1.85},{"x":3.155,"y":2.24},{"x":3.163,"y":1.97},{"x":3.171,"y":2.09},{"x":3.186,"y":1.88},{"x":3.194,"y":2.30},{"x":3.207,"y":2.01},{"x":3.215,"y":1.87},{"x":3.228,"y":2.14},{"x":3.236,"y":1.94},{"x":3.247,"y":2.26},{"x":3.258,"y":1.83},{"x":3.266,"y":2.07},{"x":3.279,"y":1.96},{"x":3.288,"y":2.19},{"x":3.297,"y":1.86},{"x":3.309,"y":2.03},{"x":3.318,"y":2.11},{"x":3.331,"y":1.90},{"x":3.342,"y":2.22},{"x":3.353,"y":1.84},{"x":3.367,"y":2.04},{"x":3.378,"y":1.92},{"x":3.389,"y":2.16},{"x":3.404,"y":1.88},{"x":3.416,"y":2.31},{"x":3.428,"y":1.99},{"x":3.441,"y":2.08},{"x":3.457,"y":1.85},{"x":3.468,"y":2.20},{"x":3.482,"y":1.94},{"x":3.494,"y":2.05},{"x":3.508,"y":1.87},{"x":3.521,"y":2.13},{"x":3.534,"y":1.91},{"x":3.547,"y":2.28},{"x":3.561,"y":1.86},{"x":3.575,"y":2.02},{"x":3.588,"y":2.17},{"x":3.602,"y":1.89},{"x":3.615,"y":2.09},{"x":3.628,"y":1.95},{"x":3.641,"y":2.24},{"x":3.655,"y":1.83},{"x":3.668,"y":2.06},{"x":3.681,"y":1.98},{"x":3.694,"y":2.12},{"x":3.707,"y":1.87},{"x":3.722,"y":2.19},{"x":3.736,"y":1.93},{"x":3.749,"y":2.05},{"x":3.763,"y":1.85},{"x":3.777,"y":2.27},{"x":3.791,"y":1.96},{"x":3.806,"y":2.10},{"x":3.819,"y":1.88},{"x":3.833,"y":2.01},{"x":3.847,"y":2.15},{"x":3.862,"y":1.86},{"x":3.876,"y":2.08},{"x":3.889,"y":1.94},{"x":3.903,"y":2.22},{"x":3.917,"y":1.90},{"x":3.931,"y":2.13},{"x":3.946,"y":1.84},{"x":3.958,"y":2.04},{"x":3.971,"y":1.97},{"x":3.984,"y":2.11},{"x":3.996,"y":1.87},
{"x":3.09,"y":3.96},{"x":3.103,"y":3.92},{"x":3.107,"y":3.88},{"x":3.083,"y":3.69},{"x":3.034,"y":3.56},{"x":3.128,"y":3.50},{"x":3.193,"y":3.99},{"x":3.157,"y":3.25},{"x":3.223,"y":3.26},{"x":3.22,"y":3.23},{"x":3.117,"y":3.21},{"x":3.287,"y":3.20},{"x":3.343,"y":3.18},{"x":3.36,"y":3.17},{"x":3.367,"y":3.09},{"x":3.103,"y":3.10},{"x":3.009,"y":3.06},{"x":3.049,"y":2.94},{"x":3.06,"y":2.88},{"x":3.067,"y":2.85},{"x":3.09,"y":2.80},{"x":3.296,"y":2.81},{"x":3.322,"y":2.81},{"x":3.332,"y":2.87},{"x":3.041,"y":2.71},{"x":3.066,"y":2.58},{"x":3.07,"y":2.56},{"x":3.116,"y":2.62},{"x":3.128,"y":2.54},{"x":3.032,"y":2.48},{"x":3.036,"y":2.47},{"x":3.167,"y":2.62},{"x":3.179,"y":2.61},{"x":3.196,"y":2.66},{"x":3.197,"y":2.55},{"x":3.193,"y":2.51},{"x":3.222,"y":2.63},{"x":3.218,"y":2.65},{"x":3.254,"y":2.63},{"x":3.32,"y":2.45},{"x":3.433,"y":2.61},{"x":3.531,"y":2.63},{"x":3.483,"y":2.58},{"x":3.552,"y":2.96},{"x":3.559,"y":2.80},{"x":3.556,"y":2.83},{"x":3.574,"y":3.04},{"x":3.61,"y":2.93},{"x":3.642,"y":2.92},{"x":3.683,"y":2.90},{"x":3.62,"y":2.51},{"x":3.606,"y":2.40},{"x":3.62,"y":2.40},{"x":3.705,"y":2.45},{"x":3.746,"y":2.49},{"x":3.822,"y":2.63},{"x":3.824,"y":2.56},{"x":3.818,"y":2.45},{"x":3.854,"y":3.00},{"x":3.965,"y":3.09},{"x":3.926,"y":2.43},{"x":3.903,"y":2.34},{"x":3.344,"y":2.45},{"x":3.39,"y":2.35},{"x":3.41,"y":2.35},{"x":3.45,"y":2.41},{"x":3.46,"y":2.38},{"x":3.475,"y":2.43},
{"x":3.0,"y":2.30},{"x":3.005,"y":2.35},{"x":3.01,"y":2.25},{"x":3.02,"y":2.38},{"x":3.05,"y":2.26},{"x":3.075,"y":2.20},{"x":3.09,"y":2.28},{"x":3.13,"y":2.24},{"x":3.14,"y":2.30},
{"x":3.005,"y":1.19},{"x":3.05,"y":1.17},{"x":3.12,"y":1.16},{"x":3.28,"y":1.14},{"x":3.6,"y":1.06},{"x":3.65,"y":1.08},{"x":3.72,"y":1.05},{"x":3.78,"y":1.04},{"x":3.86,"y":1.02},{"x":3.91,"y":0.99},{"x":3.93,"y":1.01},{"x":3.95,"y":0.98},{"x":3.97,"y":1.03},{"x":3.99,"y":1.0},{"x":3.88,"y":1.06},{"x":3.83,"y":1.08}
],
"bm": [
{"x":3.0,"y":1.501,"s":"NG"},{"x":3.1,"y":1.473,"s":"NG"},{"x":3.2,"y":1.446,"s":"NG"},{"x":3.3,"y":1.421,"s":"NG"},{"x":3.4,"y":1.396,"s":"NG"},{"x":3.5,"y":1.377,"s":"NG"},{"x":3.6,"y":1.352,"s":"NG"},{"x":3.7,"y":1.330,"s":"NG"},{"x":3.8,"y":1.311,"s":"NG"},{"x":3.9,"y":1.289,"s":"NG"},{"x":4.0,"y":1.270,"s":"NG"},
{"x":3.0,"y":1.735,"s":"LG"},{"x":3.1,"y":1.683,"s":"LG"},{"x":3.2,"y":1.639,"s":"LG"},{"x":3.3,"y":1.597,"s":"LG"},{"x":3.4,"y":1.559,"s":"LG"},{"x":3.5,"y":1.520,"s":"LG"},{"x":3.6,"y":1.484,"s":"LG"},{"x":3.7,"y":1.451,"s":"LG"},{"x":3.8,"y":1.421,"s":"LG"},{"x":3.9,"y":1.391,"s":"LG"},{"x":4.0,"y":1.361,"s":"LG"}
],
"cbox": [{"g":"all","q1":1.276,"med":1.43,"q3":1.635,"hi":3.97}],
"cout": [{"g":"all","v":25.1},{"g":"all","v":18.7},{"g":"all","v":16.4},{"g":"all","v":5.08},{"g":"all","v":4.25},{"g":"all","v":4.15}]
},
"hconcat": [
{"hconcat": [
{"width": 406, "height": 383,
 "layer": [
 {"data": {"name": "a"}, "mark": {"type": "circle", "size": 44, "opacity": 1},
  "encoding": {
   "x": {"field": "x", "type": "quantitative", "scale": {"domain": [2.95, 4.05], "nice": false, "zero": false},
         "axis": {"values": [3, 3.2, 3.4, 3.6, 3.8, 4], "format": ".1f", "tickSize": -5, "labelPadding": 14, "title": "Ko (mmol l⁻¹)", "titlePadding": 12, "labelFlush": false}},
   "y": {"field": "y", "type": "quantitative", "scale": {"domain": [0.508, 1.1], "nice": false, "zero": false},
         "axis": {"values": [0.6, 0.7, 0.8, 0.9, 1.0, 1.1], "format": ".1f", "tickSize": -5, "labelPadding": 19, "title": "CL (s)", "titleFontSize": 25, "titlePadding": 10, "labelFlush": false}},
   "color": {"datum": "G", "type": "nominal", "scale": {"domain": ["G", "NG", "LG"], "range": ["#c8c8c8", "#1414dc", "#e81414"]}}}},
 {"data": {"values": [{}]}, "mark": {"type": "rule", "color": "#6e6e6e", "strokeDash": [8, 5], "strokeWidth": 2.5}, "encoding": {"y": {"datum": 0.92}}},
 {"data": {"values": [{}]}, "mark": {"type": "rule", "color": "#f01414", "strokeDash": [8, 6], "strokeWidth": 2.5}, "encoding": {"y": {"datum": 0.69}}},
 {"data": {"name": "am"}, "mark": {"type": "circle", "size": 75, "opacity": 1, "stroke": "#222", "strokeWidth": 0.8},
  "encoding": {"x": {"field": "x", "type": "quantitative"}, "y": {"field": "y", "type": "quantitative"},
   "color": {"field": "s", "type": "nominal", "legend": {"title": null, "orient": "none", "legendX": 106, "legendY": -8, "rowPadding": 17,
     "labelExpr": "datum.value == 'G' ? 'gKr: [0.7, 1], IVshift: [0, –3], Ko: [3, 4]' : datum.value == 'NG' ? 'NG: gKr = 1 and IVshift = 0' : 'LG: gKr = 0.7 and IVshift = –3 mV'",
     "encode": {"legend": {"update": {"strokeWidth": {"value": 1.5}}}, "symbols": {"update": {"size": {"signal": "datum.index == 0 ? 22 : 64"}}}}}}}},
 {"data": {"values": [{}]}, "mark": {"type": "text", "fontSize": 17, "baseline": "alphabetic", "align": "center", "color": "#111"},
  "encoding": {"x": {"datum": 3.463}, "y": {"datum": 1.1232}, "text": {"value": "Symp.Activity +"}}},
 {"data": {"values": [{}]}, "mark": {"type": "text", "fontSize": 23, "fontStyle": "italic", "baseline": "alphabetic", "align": "center", "color": "#111"},
  "encoding": {"x": {"datum": 2.78}, "y": {"datum": 1.1186}, "text": {"value": "(a)"}}}
 ]},
{"width": 407, "height": 384,
 "layer": [
 {"data": {"name": "b"}, "mark": {"type": "circle", "size": 44, "opacity": 1},
  "encoding": {
   "x": {"field": "x", "type": "quantitative", "scale": {"domain": [2.95, 4.05], "nice": false, "zero": false},
         "axis": {"values": [3, 3.2, 3.4, 3.6, 3.8, 4], "format": ".1f", "tickSize": -5, "labelPadding": 14, "title": "Ko (mmol l⁻¹)", "titlePadding": 12, "labelFlush": false}},
   "y": {"field": "y", "type": "quantitative", "scale": {"domain": [0.845, 4.0165], "nice": false, "zero": false},
         "axis": {"values": [1, 1.5, 2, 2.5, 3, 3.5, 4], "format": ".1f", "tickSize": -5, "labelPadding": 19, "title": "CL (s)", "titleFontSize": 25, "titlePadding": 10, "labelFlush": false}},
   "color": {"datum": "G", "type": "nominal", "scale": {"domain": ["G", "NG", "LG"], "range": ["#c8c8c8", "#1414dc", "#e81414"]}}}},
 {"data": {"values": [{}]}, "mark": {"type": "rule", "color": "#6e6e6e", "strokeDash": [8, 5], "strokeWidth": 2.5}, "encoding": {"y": {"datum": 0.926}}},
 {"data": {"values": [{}]}, "mark": {"type": "rule", "color": "#f01414", "strokeDash": [8, 6], "strokeWidth": 2.5}, "encoding": {"y": {"datum": 1.272}}},
 {"data": {"name": "bm"}, "mark": {"type": "circle", "size": 75, "opacity": 1, "stroke": "#222", "strokeWidth": 0.8},
  "encoding": {"x": {"field": "x", "type": "quantitative"}, "y": {"field": "y", "type": "quantitative"},
   "color": {"field": "s", "type": "nominal", "legend": {"title": null, "orient": "none", "legendX": 99, "legendY": -6, "rowPadding": 13,
     "labelExpr": "datum.value == 'G' ? 'gKr: [0.7, 1], IVshift: [0, –3], Ko: [3, 4]' : datum.value == 'NG' ? 'NG: gKr = 1 and IVshift = 0' : 'LG: gKr = 0.7 and IVshift = –3 mV'",
     "encode": {"legend": {"update": {"strokeWidth": {"value": 1.5}}}, "symbols": {"update": {"size": {"signal": "datum.index == 0 ? 22 : 64"}}}}}}}},
 {"data": {"values": [{}]}, "mark": {"type": "text", "fontSize": 17, "baseline": "alphabetic", "align": "center", "color": "#111"},
  "encoding": {"x": {"datum": 3.47}, "y": {"datum": 4.145}, "text": {"value": "Parasymp.Activity +"}}},
 {"data": {"values": [{}]}, "mark": {"type": "text", "fontSize": 23, "fontStyle": "italic", "baseline": "alphabetic", "align": "center", "color": "#111"},
  "encoding": {"x": {"datum": 2.781}, "y": {"datum": 4.13}, "text": {"value": "(b)"}}}
 ]}
], "spacing": 29},
{"width": 45, "height": 388,
 "title": {"text": "(c)", "anchor": "start", "frame": "bounds", "fontSize": 23, "fontStyle": "italic", "offset": 8},
 "layer": [
 {"data": {"name": "cbox"}, "mark": {"type": "rule", "strokeDash": [2, 2], "color": "#777", "strokeWidth": 1.3},
  "encoding": {
   "x": {"field": "g", "type": "nominal", "scale": {"paddingInner": 0, "paddingOuter": 1}, "axis": {"labels": false, "ticks": false, "title": null}},
   "y": {"field": "q3", "type": "quantitative", "scale": {"type": "log", "domain": [1, 32.1], "nice": false},
         "axis": {"values": [1, 1.5, 2, 3, 5, 10, 25], "format": "~g", "tickSize": 5, "labelPadding": 3, "title": "CL (s)", "titleFontSize": 25, "titlePadding": 10}},
   "y2": {"field": "hi"}}},
 {"data": {"name": "cbox"}, "mark": {"type": "tick", "size": 5, "thickness": 1, "color": "#666"},
  "encoding": {"x": {"field": "g", "type": "nominal"}, "y": {"field": "hi", "type": "quantitative"}}},
 {"data": {"name": "cbox"}, "mark": {"type": "bar", "fill": "#cccccc", "stroke": "#666", "strokeWidth": 1},
  "encoding": {"x": {"field": "g", "type": "nominal"}, "y": {"field": "q1", "type": "quantitative"}, "y2": {"field": "q3"}}},
 {"data": {"name": "cbox"}, "mark": {"type": "tick", "size": 15, "thickness": 2, "color": "#111"},
  "encoding": {"x": {"field": "g", "type": "nominal"}, "y": {"field": "med", "type": "quantitative"}}},
 {"data": {"name": "cout"}, "mark": {"type": "circle", "size": 44, "color": "#c8c8c8", "opacity": 1},
  "encoding": {"x": {"field": "g", "type": "nominal"}, "y": {"field": "v", "type": "quantitative"}}}
 ]}
],
"spacing": 30
}
